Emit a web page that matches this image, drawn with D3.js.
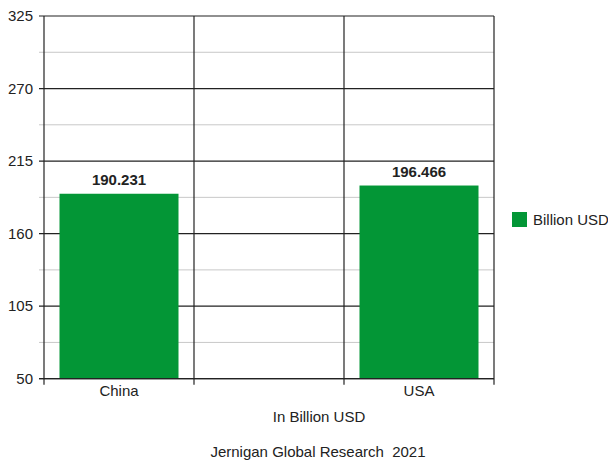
<!DOCTYPE html>
<html>
<head>
<meta charset="utf-8">
<script src="https://cdn.jsdelivr.net/npm/d3@7"></script>
<style>
  html, body { margin: 0; padding: 0; background: #fff; }
  svg { display: block; font-family: "Liberation Sans", Arial, sans-serif; }
  text { white-space: pre; }
</style>
</head>
<body>
<script>
// Categories along the x axis (the middle band is left empty)
const categories = ["China", "", "USA"];
// Values in billion USD, one per category
const values = [190.231, null, 196.466];
const seriesName = "Billion USD";
const yTicks = [50, 105, 160, 215, 270, 325];
const yMinorTicks = [77.5, 132.5, 187.5, 242.5, 297.5];
const xTitle = "In Billion USD";
const footer = "Jernigan Global Research  2021";

const W = 608, H = 462;
const margin = { left: 44, top: 16, right: 114, bottom: 83.3 };
const green = "#039636";
const fs = 15;

const svg = d3.select("body").append("svg").attr("width", W).attr("height", H);

const x = d3.scaleBand().domain(d3.range(categories.length))
  .range([margin.left, W - margin.right]).paddingInner(0).paddingOuter(0);
const y = d3.scaleLinear().domain([50, 325]).range([H - margin.bottom, margin.top]);

const plot = svg.append("g");

// Minor horizontal grid
plot.selectAll("line.minor").data(yMinorTicks).join("line")
  .attr("x1", margin.left - 5).attr("x2", W - margin.right)
  .attr("y1", d => y(d)).attr("y2", d => y(d))
  .attr("stroke", "#c8c8c8").attr("stroke-width", 1);

// Major horizontal grid
plot.selectAll("line.major").data(yTicks).join("line")
  .attr("x1", margin.left - 5).attr("x2", W - margin.right)
  .attr("y1", d => y(d)).attr("y2", d => y(d))
  .attr("stroke", "#222").attr("stroke-width", 1.2);

// Vertical band separators, with ticks below the axis
const bounds = d3.range(categories.length + 1).map(i =>
  i < categories.length ? x(i) : x(categories.length - 1) + x.bandwidth());
plot.selectAll("line.vgrid").data(bounds).join("line")
  .attr("x1", d => d).attr("x2", d => d)
  .attr("y1", margin.top).attr("y2", H - margin.bottom + 6)
  .attr("stroke", "#222").attr("stroke-width", 1.2);

// Bars
const barW = 119;
const barData = values.map((v, i) => ({ v, i })).filter(d => d.v != null);
plot.selectAll("rect.bar").data(barData).join("rect")
  .attr("x", d => x(d.i) + (x.bandwidth() - barW) / 2)
  .attr("width", barW)
  .attr("y", d => y(d.v))
  .attr("height", d => y(50) - y(d.v))
  .attr("fill", green);

// Redraw the baseline above the bars
plot.append("line")
  .attr("x1", margin.left - 5).attr("x2", W - margin.right)
  .attr("y1", y(50)).attr("y2", y(50))
  .attr("stroke", "#222").attr("stroke-width", 1.2);

// Value labels
plot.selectAll("text.val").data(barData).join("text")
  .attr("x", d => x(d.i) + x.bandwidth() / 2)
  .attr("y", d => y(d.v) - 9)
  .attr("text-anchor", "middle")
  .attr("font-size", fs).attr("font-weight", "bold").attr("fill", "#222")
  .text(d => d.v.toFixed(3));

// Y tick labels
plot.selectAll("text.ytick").data(yTicks).join("text")
  .attr("x", margin.left - 11)
  .attr("y", d => y(d) + 5)
  .attr("text-anchor", "end")
  .attr("font-size", fs).attr("fill", "#222")
  .text(d => d);

// Category labels
plot.selectAll("text.cat").data(categories).join("text")
  .attr("x", (d, i) => x(i) + x.bandwidth() / 2)
  .attr("y", y(50) + 17)
  .attr("text-anchor", "middle")
  .attr("font-size", fs).attr("fill", "#222")
  .text(d => d);

// Axis title and footer
svg.append("text").attr("x", 319).attr("y", 422)
  .attr("text-anchor", "middle").attr("font-size", fs).attr("fill", "#222")
  .text(xTitle);
svg.append("text").attr("x", 318).attr("y", 457)
  .attr("text-anchor", "middle").attr("font-size", fs).attr("fill", "#222")
  .text(footer);

// Legend
const lg = svg.append("g").attr("transform", "translate(512,212)");
lg.append("rect").attr("width", 15).attr("height", 15).attr("fill", green);
lg.append("text").attr("x", 21).attr("y", 13)
  .attr("font-size", fs).attr("fill", "#222").text(seriesName);
</script>
</body>
</html>
